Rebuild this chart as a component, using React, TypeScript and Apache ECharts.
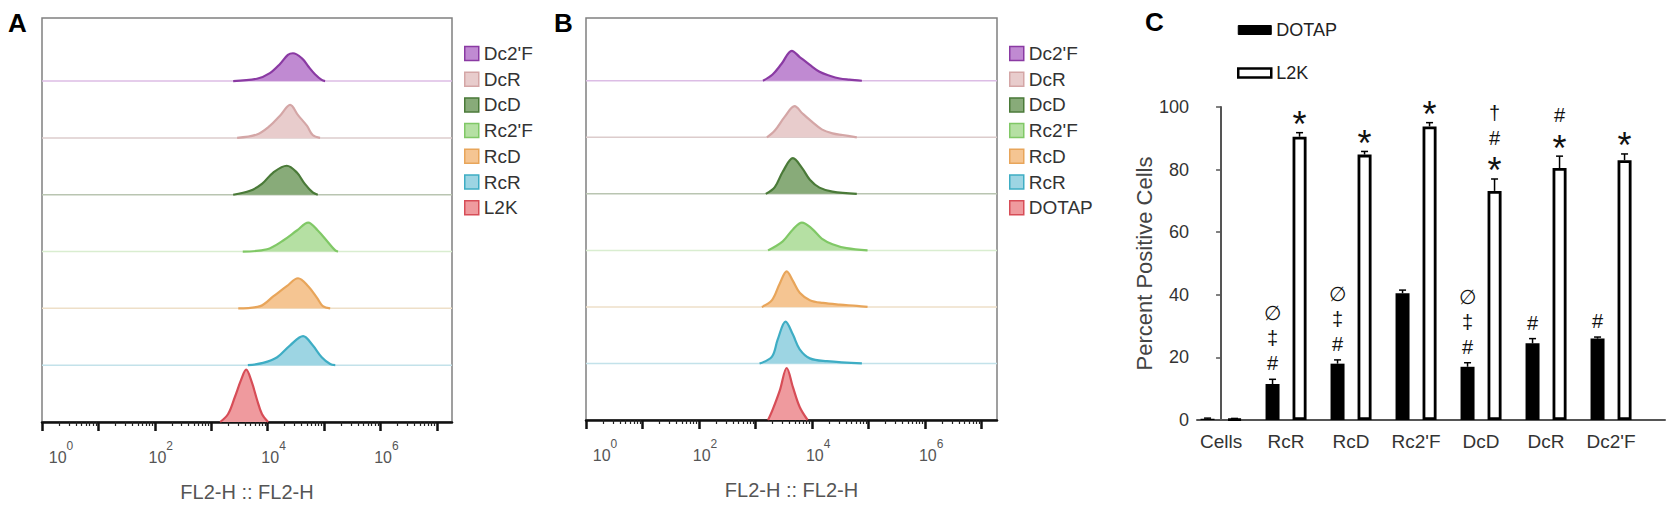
import React, { useEffect, useRef } from "react";
import * as echarts from "echarts";

// ---------- Panels A & B: offset histograms (x = log10 exponent, h = fraction of a row) ----------
const rowNames = ["Dc2'F", "DcR", "DcD", "Rc2'F", "RcD", "RcR"]; // top -> bottom, above last row
const bottomNameA = "L2K";
const bottomNameB = "DOTAP";

const aDc2F = [[3.39, 0], [3.81, 0.04], [4.04, 0.14], [4.22, 0.3], [4.36, 0.46], [4.45, 0.49], [4.61, 0.4], [4.72, 0.26], [4.84, 0.12], [4.96, 0.02], [5.02, 0]];
const aDcR = [[3.46, 0], [3.81, 0.06], [4.04, 0.21], [4.22, 0.39], [4.4, 0.58], [4.54, 0.4], [4.7, 0.21], [4.8, 0.05], [4.93, 0]];
const aDcD = [[3.39, 0], [3.69, 0.07], [3.9, 0.19], [4.1, 0.39], [4.34, 0.51], [4.52, 0.39], [4.66, 0.19], [4.8, 0.04], [4.89, 0]];
const aRc2F = [[3.56, 0], [3.99, 0.04], [4.27, 0.19], [4.52, 0.37], [4.72, 0.51], [4.89, 0.37], [5.05, 0.19], [5.2, 0.02], [5.25, 0]];
const aRcD = [[3.48, 0], [3.87, 0.04], [4.1, 0.21], [4.34, 0.39], [4.54, 0.53], [4.72, 0.39], [4.88, 0.18], [4.98, 0.04], [5.11, 0]];
const aRcR = [[3.65, 0], [3.92, 0.04], [4.17, 0.14], [4.4, 0.35], [4.63, 0.51], [4.8, 0.35], [4.96, 0.14], [5.11, 0.02], [5.2, 0]];
const aL2K = [[3.16, 0], [3.3, 0.14], [3.42, 0.44], [3.53, 0.74], [3.62, 0.92], [3.72, 0.7], [3.81, 0.4], [3.9, 0.14], [4.01, 0]];

const bDc2F = [[3.13, 0], [3.3, 0.11], [3.46, 0.3], [3.64, 0.53], [3.78, 0.42], [3.96, 0.28], [4.13, 0.16], [4.31, 0.09], [4.49, 0.04], [4.66, 0.02], [4.88, 0]];
const bDcR = [[3.2, 0], [3.34, 0.12], [3.52, 0.37], [3.69, 0.55], [3.83, 0.42], [3.99, 0.28], [4.17, 0.14], [4.36, 0.07], [4.54, 0.04], [4.79, 0]];
const bDcD = [[3.18, 0], [3.34, 0.12], [3.48, 0.39], [3.66, 0.63], [3.82, 0.46], [3.96, 0.25], [4.13, 0.11], [4.36, 0.04], [4.79, 0]];
const bRc2F = [[3.22, 0], [3.48, 0.16], [3.66, 0.37], [3.82, 0.49], [3.99, 0.39], [4.17, 0.21], [4.36, 0.11], [4.61, 0.04], [4.98, 0]];
const bRcD = [[3.11, 0], [3.29, 0.12], [3.43, 0.42], [3.55, 0.63], [3.66, 0.46], [3.78, 0.25], [3.96, 0.12], [4.19, 0.07], [4.49, 0.04], [4.79, 0.02], [4.98, 0]];
const bRcR = [[3.07, 0], [3.29, 0.12], [3.39, 0.42], [3.53, 0.74], [3.66, 0.51], [3.78, 0.25], [3.96, 0.09], [4.26, 0.04], [4.88, 0]];
const bDOTAP = [[3.22, 0], [3.3, 0.18], [3.43, 0.53], [3.55, 0.92], [3.66, 0.58], [3.78, 0.23], [3.92, 0]];

const histRowsA = [aDc2F, aDcR, aDcD, aRc2F, aRcD, aRcR, aL2K];
const histRowsB = [bDc2F, bDcR, bDcD, bRc2F, bRcD, bRcR, bDOTAP];

const fillColors = ["#c08ad2", "#e8cccc", "#88ab79", "#b5e0a3", "#f5c592", "#9dd5e3", "#ef9a9e"];
const lineColors = ["#8a3aa3", "#d4a6a6", "#4a7a38", "#80c866", "#e8a55a", "#3eadc4", "#d74d57"];
const baseColors = ["#dcbde5", "#dccccc", "#b9c5b1", "#d9edd0", "#eedfc8", "#c3e2ea", "#d9525b"];

const xMaxExp = 7.27;
const yMaxRows = 7.11;
const majorTickExps = [0, 1, 2, 3, 4, 5, 6, 7];
const labelPositions = [0.23, 2, 4, 6];
const labelExponents = ["0", "2", "4", "6"];
const minorTickExps: number[] = [];
for (let k = 0; k < 8; k++) {
  for (let m = 2; m <= 9; m++) {
    const v = k + Math.log10(m);
    if (v < xMaxExp) minorTickExps.push(v);
  }
}

// ---------- Panel C: grouped bars ----------
const categories = ["Cells", "RcR", "RcD", "Rc2'F", "DcD", "DcR", "Dc2'F"];
const categoryPositions = [0, 1, 2, 3, 4, 5, 6];
const dotapValues = [0.4, 11.5, 18, 40.5, 17, 24.5, 26];
const dotapErrors = [0.2, 1.5, 1.2, 1.0, 1.3, 1.5, 0.5];
const l2kValues = [0.3, 90.5, 84.8, 93.8, 73.2, 80.5, 83];
const l2kErrors = [0.2, 1.3, 1.0, 1.2, 3.8, 3.8, 2.0];
const dotapMarks = [[], ["#", "‡", "∅"], ["#", "‡", "∅"], [], ["#", "‡", "∅"], ["#"], ["#"]];
const l2kMarks = [[], ["*"], ["*"], ["*"], ["*", "#", "†"], ["*", "#"], ["*"]];
const yTicksC = { min: 0, max: 100, interval: 20 };
const xRangeC = { min: -0.37, max: 6.83 };

const FONT = "'Liberation Sans', Arial, sans-serif";
const BAR_HALF_SPACING = 13.5;

function histSeries(panel: string, axisIdx: number, names: string[], rows: number[][][]) {
  const out: any[] = [];
  rows.forEach((pts, i) => {
    const offset = rows.length - 1 - i;
    if (offset > 0) {
      out.push({
        type: "line",
        name: `${panel}-base-${i}`,
        xAxisIndex: axisIdx * 2,
        yAxisIndex: axisIdx,
        data: [[0, offset], [xMaxExp, offset]],
        symbol: "none",
        silent: true,
        lineStyle: { color: baseColors[i], width: 1.5 },
        z: 2,
      });
    }
    out.push({
      type: "line",
      name: `${panel}:${names[i]}`,
      xAxisIndex: axisIdx * 2,
      yAxisIndex: axisIdx,
      data: pts.map(([x, h]) => [x, offset + h]),
      smooth: 0.35,
      symbol: "none",
      silent: true,
      lineStyle: { color: lineColors[i], width: 2.2 },
      itemStyle: { color: fillColors[i] },
      areaStyle: { color: fillColors[i], opacity: 1, origin: offset },
      z: 3,
    });
  });
  return out;
}

function histAxes(gridIndex: number) {
  const major = {
    type: "value",
    gridIndex,
    min: 0,
    max: xMaxExp,
    position: "bottom",
    splitLine: { show: false },
    axisLine: { show: true, onZero: false, lineStyle: { color: "#111", width: 2.5 } },
    axisTick: { show: true, customValues: majorTickExps, length: 9, lineStyle: { color: "#111", width: 2.5 } },
    axisLabel: {
      show: true,
      customValues: labelPositions,
      margin: 18,
      padding: [0, 0, 0, 12],
      formatter: (v: number) => {
        let idx = 0;
        labelPositions.forEach((p, i) => { if (Math.abs(p - v) < 1e-6) idx = i; });
        return `{b|10}{s|${labelExponents[idx]}}`;
      },
      rich: {
        b: { fontSize: 16, color: "#555", fontFamily: FONT, verticalAlign: "bottom", padding: [9, 0, 0, 0] },
        s: { fontSize: 12, color: "#555", fontFamily: FONT, verticalAlign: "top" },
      },
    },
    name: "FL2-H :: FL2-H",
    nameLocation: "middle",
    nameGap: 60,
    nameTextStyle: { fontSize: 20, color: "#555", fontFamily: FONT },
  };
  const minor = {
    type: "value",
    gridIndex,
    min: 0,
    max: xMaxExp,
    position: "bottom",
    splitLine: { show: false },
    axisLine: { show: false },
    axisLabel: { show: false },
    axisTick: { show: true, customValues: minorTickExps, length: 4, lineStyle: { color: "#222", width: 1.2 } },
  };
  return [major, minor];
}

function errorRenderer(side: number, marks: string[][]) {
  return (params: any, api: any) => {
    const cat = api.value(0);
    const val = api.value(1);
    const err = api.value(2);
    const base = api.coord([cat, val]);
    const top = api.coord([cat, val + err]);
    const cx = base[0] + side * BAR_HALF_SPACING;
    const children: any[] = [
      { type: "line", shape: { x1: cx, y1: base[1], x2: cx, y2: top[1] }, style: { stroke: "#000", lineWidth: 1.5 } },
      { type: "line", shape: { x1: cx - 3.5, y1: top[1], x2: cx + 3.5, y2: top[1] }, style: { stroke: "#000", lineWidth: 1.5 } },
    ];
    const list = marks[params.dataIndex] || [];
    list.forEach((m, k) => {
      const isStar = m === "*";
      const fs = isStar ? 36 : 20;
      const cy = top[1] - 16 - 25 * k + (isStar ? 8 : 0);
      children.push({
        type: "text",
        x: cx,
        y: cy,
        style: { text: m, fontSize: fs, fontFamily: FONT, fill: "#111", align: "center", verticalAlign: "middle" },
      });
    });
    return { type: "group", children };
  };
}

export default function App() {
  const ref = useRef<HTMLDivElement>(null);
  useEffect(() => {
    if (!ref.current) return;
    const chart = echarts.init(ref.current, undefined, { renderer: "svg" });
    const [aMaj, aMin] = histAxes(0);
    const [bMaj, bMin] = histAxes(1);
    const namesA = [...rowNames, bottomNameA];
    const namesB = [...rowNames, bottomNameB];
    const legendItems = (panel: string, names: string[]) =>
      names.map((n, i) => ({
        name: `${panel}:${n}`,
        itemStyle: { color: fillColors[i], borderColor: lineColors[i], borderWidth: 1.5 },
      }));
    const option: any = {
      animation: false,
      backgroundColor: "#fff",
      textStyle: { fontFamily: FONT },
      grid: [
        { left: 42, top: 18, width: 410, height: 404, show: true, borderColor: "#808080", borderWidth: 1.5, backgroundColor: "transparent" },
        { left: 586, top: 18, width: 411, height: 402, show: true, borderColor: "#808080", borderWidth: 1.5, backgroundColor: "transparent" },
        { left: 1197, right: 15, top: 107, bottom: 89 },
      ],
      xAxis: [
        aMaj, aMin, bMaj, bMin,
        {
          type: "value",
          gridIndex: 2,
          min: xRangeC.min,
          max: xRangeC.max,
          splitLine: { show: false },
          axisLine: { show: true, onZero: false, lineStyle: { color: "#555", width: 2 } },
          axisTick: { show: false },
          axisLabel: {
            customValues: categoryPositions,
            formatter: (v: number) => categories[Math.round(v)] ?? "",
            fontSize: 19, color: "#333", fontFamily: FONT, margin: 12,
          },
        },
      ],
      yAxis: [
        { type: "value", gridIndex: 0, min: 0, max: yMaxRows, show: false },
        { type: "value", gridIndex: 1, min: 0, max: yMaxRows, show: false },
        {
          type: "value",
          gridIndex: 2,
          min: yTicksC.min,
          max: yTicksC.max,
          interval: yTicksC.interval,
          splitLine: { show: false },
          axisLine: { show: true, lineStyle: { color: "#555", width: 2 } },
          axisTick: { show: true, length: 5, lineStyle: { color: "#555", width: 1.5 } },
          axisLabel: { fontSize: 18, color: "#333", fontFamily: FONT, margin: 8 },
          name: "Percent Positive Cells",
          nameLocation: "middle",
          nameGap: 40,
          nameTextStyle: { fontSize: 22, color: "#444", fontFamily: FONT },
        },
      ],
      legend: [
        {
          left: 459, top: 39, orient: "vertical", icon: "rect", itemWidth: 14, itemHeight: 14, itemGap: 6.7,
          selectedMode: false, data: legendItems("A", namesA), formatter: (n: string) => n.slice(2),
          textStyle: { fontSize: 19, color: "#333", fontFamily: FONT, lineHeight: 19 },
        },
        {
          left: 1004, top: 39, orient: "vertical", icon: "rect", itemWidth: 14, itemHeight: 14, itemGap: 6.7,
          selectedMode: false, data: legendItems("B", namesB), formatter: (n: string) => n.slice(2),
          textStyle: { fontSize: 19, color: "#333", fontFamily: FONT, lineHeight: 19 },
        },
        {
          left: 1232, top: 16, orient: "vertical", icon: "rect", itemWidth: 33, itemHeight: 9, itemGap: 25,
          selectedMode: false,
          data: [
            { name: "DOTAP", itemStyle: { color: "#000", borderColor: "#000", borderWidth: 1 } },
            { name: "L2K", itemStyle: { color: "#fff", borderColor: "#000", borderWidth: 2.5 } },
          ],
          textStyle: { fontSize: 18, color: "#222", fontFamily: FONT, lineHeight: 18 },
        },
      ],
      graphic: [
        { type: "text", left: 8, top: 10, style: { text: "A", fontSize: 26, fontWeight: "bold", fill: "#000", fontFamily: FONT } },
        { type: "text", left: 554, top: 10, style: { text: "B", fontSize: 26, fontWeight: "bold", fill: "#000", fontFamily: FONT } },
        { type: "text", left: 1145, top: 9, style: { text: "C", fontSize: 26, fontWeight: "bold", fill: "#000", fontFamily: FONT } },
      ],
      series: [
        ...histSeries("A", 0, namesA, histRowsA),
        ...histSeries("B", 1, namesB, histRowsB),
        {
          type: "bar", name: "DOTAP", xAxisIndex: 4, yAxisIndex: 2,
          data: dotapValues.map((v, i) => [categoryPositions[i], v]), barWidth: 14, barGap: "93%",
          itemStyle: { color: "#000" }, silent: true,
        },
        {
          type: "bar", name: "L2K", xAxisIndex: 4, yAxisIndex: 2,
          data: l2kValues.map((v, i) => [categoryPositions[i], v]), barWidth: 14, barGap: "93%",
          itemStyle: { color: "#fff", borderColor: "#000", borderWidth: 2.8 }, silent: true,
        },
        {
          type: "custom", name: "DOTAP-err", xAxisIndex: 4, yAxisIndex: 2, silent: true, z: 5,
          data: dotapValues.map((v, i) => [categoryPositions[i], v, dotapErrors[i]]),
          renderItem: errorRenderer(-1, dotapMarks),
        },
        {
          type: "custom", name: "L2K-err", xAxisIndex: 4, yAxisIndex: 2, silent: true, z: 5,
          data: l2kValues.map((v, i) => [categoryPositions[i], v, l2kErrors[i]]),
          renderItem: errorRenderer(1, l2kMarks),
        },
      ],
    };
    chart.setOption(option);
    return () => chart.dispose();
  }, []);
  return <div ref={ref} style={{ position: "fixed", left: 0, top: 0, width: 1680, height: 509, background: "#fff" }} />;
}
